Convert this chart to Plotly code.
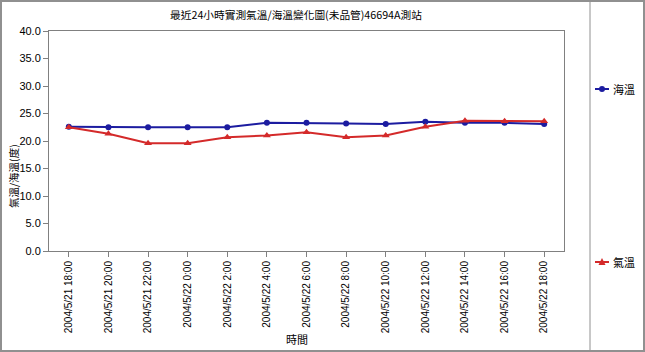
import plotly.graph_objects as go

times = ["2004/5/21 18:00", "2004/5/21 20:00", "2004/5/21 22:00", "2004/5/22 0:00",
         "2004/5/22 2:00", "2004/5/22 4:00", "2004/5/22 6:00", "2004/5/22 8:00",
         "2004/5/22 10:00", "2004/5/22 12:00", "2004/5/22 14:00", "2004/5/22 16:00",
         "2004/5/22 18:00"]
sea_temp = [22.6, 22.5, 22.5, 22.5, 22.5, 23.3, 23.3, 23.2, 23.1, 23.5, 23.3, 23.3, 23.1]
air_temp = [22.5, 21.3, 19.6, 19.6, 20.7, 21.0, 21.6, 20.7, 21.0, 22.6, 23.7, 23.6, 23.6]
y_ticks = [0, 5, 10, 15, 20, 25, 30, 35, 40]

SEA_COLOR = "#1c1ca0"
AIR_COLOR = "#d42a2a"
FONT = "Liberation Sans, Arial, Noto Sans CJK TC, sans-serif"
CJK = "Noto Sans CJK TC, Liberation Sans, sans-serif"

W, H = 645, 352
L, R, T, B = 49, 81, 31, 101
pw, ph = W - L - R, H - T - B


def px(x):
    return (x - L) / pw


def py(y):
    return (H - B - y) / ph


fig = go.Figure()
fig.add_trace(go.Scatter(
    x=times, y=sea_temp, name="海溫", mode="lines+markers",
    line=dict(color=SEA_COLOR, width=2),
    marker=dict(symbol="circle", size=6, color=SEA_COLOR), showlegend=False))
fig.add_trace(go.Scatter(
    x=times, y=air_temp, name="氣溫", mode="lines+markers",
    line=dict(color=AIR_COLOR, width=2),
    marker=dict(symbol="triangle-up", size=7, color=AIR_COLOR), showlegend=False))

shapes = [
    dict(type="rect", xref="paper", yref="paper", x0=px(1), x1=px(644),
         y0=py(351), y1=py(1), line=dict(color="#909090", width=2)),
    dict(type="line", xref="paper", yref="paper", x0=px(590), x1=px(590),
         y0=py(351), y1=py(1), line=dict(color="#909090", width=1)),
    # legend glyphs
    dict(type="line", xref="paper", yref="paper", x0=px(595), x1=px(609),
         y0=py(89), y1=py(89), line=dict(color=SEA_COLOR, width=2)),
    dict(type="circle", xref="paper", yref="paper", x0=px(599), x1=px(605),
         y0=py(92), y1=py(86), fillcolor=SEA_COLOR, line=dict(color=SEA_COLOR, width=0)),
    dict(type="line", xref="paper", yref="paper", x0=px(595), x1=px(609),
         y0=py(262), y1=py(262), line=dict(color=AIR_COLOR, width=2)),
    dict(type="path", xref="paper", yref="paper",
         path=f"M {px(598.5)},{py(265)} L {px(605.5)},{py(265)} L {px(602)},{py(258)} Z",
         fillcolor=AIR_COLOR, line=dict(color=AIR_COLOR, width=0)),
]

annotations = [
    dict(text="氣溫/海溫(度)", xref="paper", yref="paper", x=px(13), y=py(176),
         textangle=-90, showarrow=False, xanchor="center", yanchor="middle",
         font=dict(family=CJK, size=10.5)),
    dict(text="海溫", xref="paper", yref="paper", x=px(611), y=py(89),
         showarrow=False, xanchor="left", yanchor="middle",
         font=dict(family=CJK, size=11)),
    dict(text="氣溫", xref="paper", yref="paper", x=px(611), y=py(262),
         showarrow=False, xanchor="left", yanchor="middle",
         font=dict(family=CJK, size=11)),
    dict(text="時間", xref="paper", yref="paper", x=px(297), y=py(339),
         showarrow=False, xanchor="center", yanchor="middle",
         font=dict(family=CJK, size=11)),
]

fig.update_layout(
    width=W, height=H,
    margin=dict(l=L, r=R, t=T, b=B, autoexpand=False),
    paper_bgcolor="white", plot_bgcolor="white",
    font=dict(family=FONT, size=11, color="#000"),
    title=dict(text="最近24小時實測氣溫/海溫變化圖(未品管)46694A測站",
               x=px(296), xanchor="center", y=1 - 15 / H, yanchor="middle",
               xref="paper", font=dict(family=CJK, size=10.7, color="#000")),
    showlegend=False,
    xaxis=dict(type="category", tickangle=-90, showgrid=False, automargin=False,
               showline=True, linecolor="#808080", linewidth=1, mirror=True,
               ticks="outside", ticklen=5, tickcolor="#808080",
               tickfont=dict(family=FONT, size=10),
               range=[-0.5, len(times) - 0.5]),
    yaxis=dict(range=[0, 40], tickvals=y_ticks, tickformat=".1f", showgrid=False,
               automargin=False,
               showline=True, linecolor="#808080", linewidth=1, mirror=True,
               ticks="outside", ticklen=5, tickcolor="#808080",
               tickfont=dict(family=FONT, size=11), zeroline=False),
    shapes=shapes,
    annotations=annotations,
)

fig.write_html("out.html")
